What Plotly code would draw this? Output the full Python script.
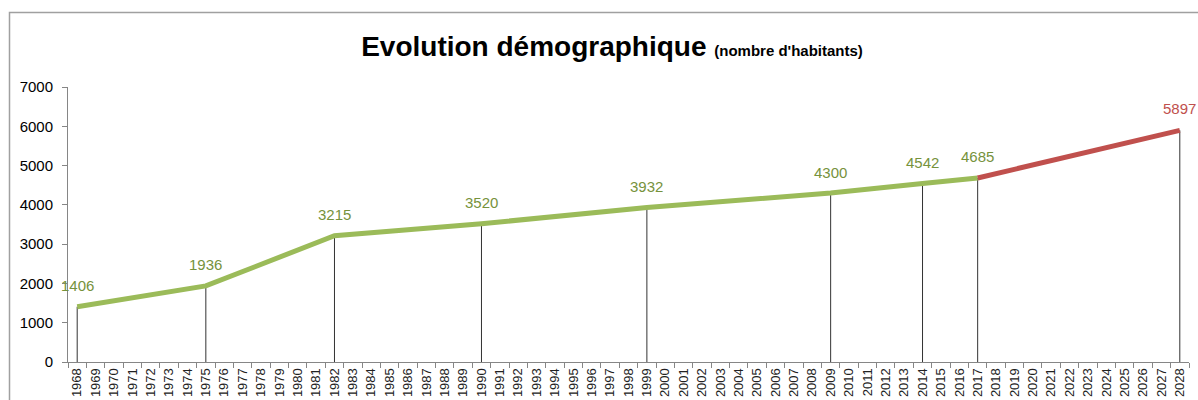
import plotly.graph_objects as go

# Data
years_obs = [1968, 1975, 1982, 1990, 1999, 2009, 2014, 2017]
pop_obs = [1406, 1936, 3215, 3520, 3932, 4300, 4542, 4685]
years_proj = [2017, 2028]
pop_proj = [4685, 5897]
axis_years = list(range(1968, 2029))
tick_labels = [str(y) for y in axis_years]
y_ticks = [0, 1000, 2000, 3000, 4000, 5000, 6000, 7000]

GREEN = "#9BBB59"
GREEN_TXT = "#76923C"
RED = "#C0504D"

fig = go.Figure()

# drop lines
drop_x, drop_y = [], []
for x, y in list(zip(years_obs, pop_obs)) + [(years_proj[-1], pop_proj[-1])]:
    drop_x += [x, x, None]
    drop_y += [y, 0, None]
fig.add_trace(go.Scatter(x=drop_x, y=drop_y, mode="lines",
                         line=dict(color="#333333", width=1), hoverinfo="skip",
                         showlegend=False))

fig.add_trace(go.Scatter(x=years_obs, y=pop_obs, mode="lines",
                         line=dict(color=GREEN, width=5), showlegend=False))
fig.add_trace(go.Scatter(x=years_proj, y=pop_proj, mode="lines",
                         line=dict(color=RED, width=5), showlegend=False))

annotations = []
for x, y in zip(years_obs, pop_obs):
    annotations.append(dict(x=x, y=y, xref="x", yref="y", text=str(y),
                            showarrow=False, yshift=21,
                            font=dict(family="Liberation Sans, Arial", size=15, color=GREEN_TXT)))
annotations.append(dict(x=years_proj[-1], y=pop_proj[-1], xref="x", yref="y",
                        text=str(pop_proj[-1]), showarrow=False, yshift=22,
                        font=dict(family="Liberation Sans, Arial", size=15, color=RED)))

fig.update_layout(
    width=1198, height=400,
    margin=dict(l=68, r=9, t=87, b=38),
    paper_bgcolor="white", plot_bgcolor="white",
    font=dict(family="Liberation Sans, Arial", color="#000000"),
    title=dict(
        text="<b>Evolution démographique</b> <span style='font-size:15px'><b>(nombre d'habitants)</b></span>",
        x=612/1198, xanchor="center", xref="container",
        y=1 - 46/400, yanchor="middle", yref="container",
        font=dict(family="Liberation Sans, Arial", size=28, color="#000000")),
    annotations=annotations,
    shapes=[dict(type="rect", xref="paper", yref="paper",
                 x0=(9.5 - 68) / 1121, x1=(1215 - 68) / 1121,
                 y0=-0.3, y1=(362 - 12.5) / 275,
                 line=dict(color="#A0A0A0", width=1.5), fillcolor="rgba(0,0,0,0)",
                 layer="below")],
)

fig.update_xaxes(
    range=[1967.5, 2028.5], tickmode="array", tickvals=axis_years, ticktext=tick_labels,
    tickangle=-90, ticks="", showgrid=False, zeroline=False, automargin=False,
    showline=True, linecolor="#868686", linewidth=1,
    tickfont=dict(family="Liberation Sans, Arial", size=13, color="#222222"),
    minor=dict(tickmode="array", tickvals=[y - 0.5 for y in axis_years] + [2028.5],
               ticks="outside", ticklen=5, tickcolor="#868686", showgrid=False),
)
fig.update_yaxes(
    range=[0, 7000], tickmode="array", tickvals=y_ticks,
    ticks="outside", ticklen=5, tickcolor="#868686", automargin=False,
    ticklabelstandoff=6,
    showgrid=False, zeroline=False, showline=True, linecolor="#868686", linewidth=1,
    tickfont=dict(family="Liberation Sans, Arial", size=15, color="#000000"),
)

fig.write_html("out.html", config={"displayModeBar": False},
               post_script="document.body.style.margin='0';document.body.style.overflow='hidden';")
